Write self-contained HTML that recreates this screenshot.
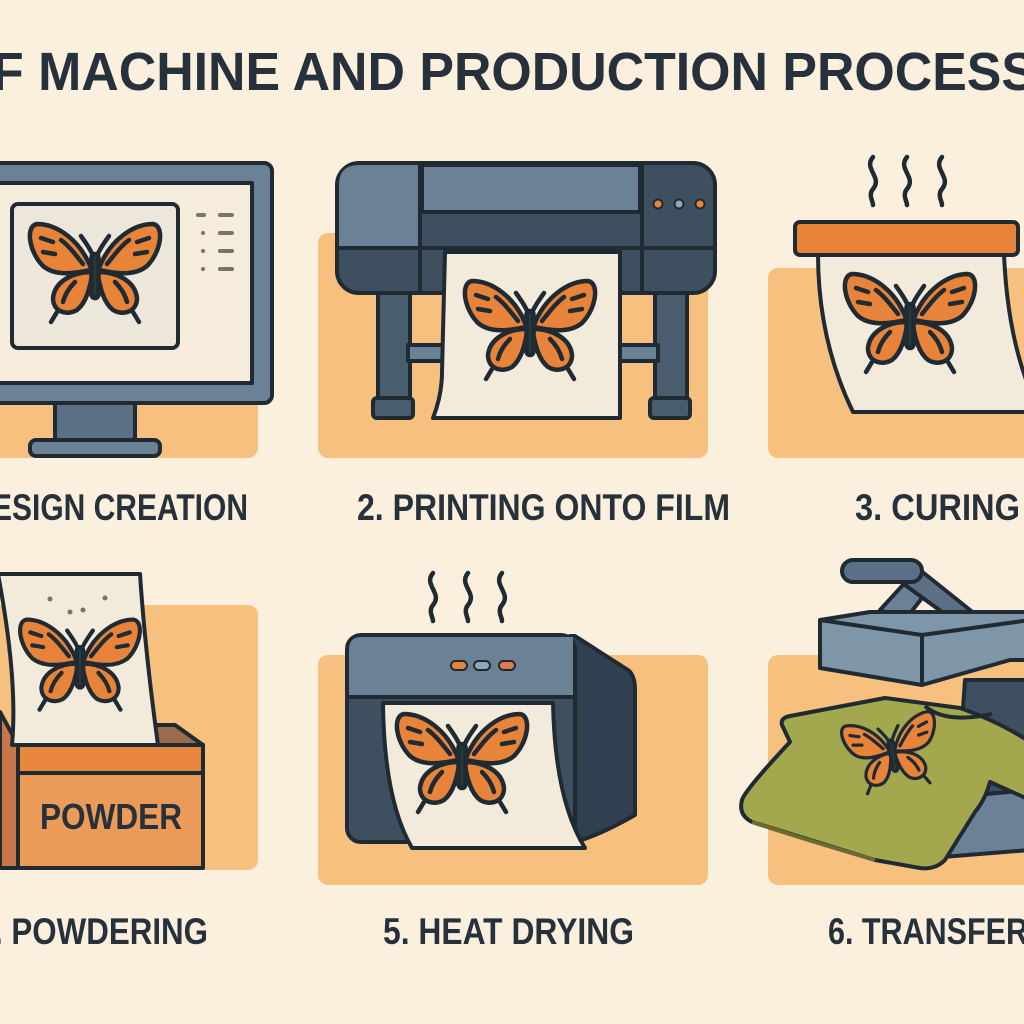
<!DOCTYPE html>
<html><head><meta charset="utf-8"><style>
html,body{margin:0;padding:0;background:#fbf0de;}
svg{display:block}
text{font-family:"Liberation Sans",sans-serif;font-weight:bold;fill:#27313c}
</style></head><body>
<svg width="1024" height="1024" viewBox="0 0 1024 1024" xmlns="http://www.w3.org/2000/svg">
<defs>
<g id="bf" stroke="#1f2a33" stroke-width="4.5" stroke-linecap="round" stroke-linejoin="round">
  <path d="M-4,0 C-15,-28 -38,-44 -58,-44 C-70,-42 -66,-16 -52,-2 C-40,8 -22,6 -4,2Z" fill="#e7843a"/>
  <path d="M4,0 C15,-28 38,-44 58,-44 C70,-42 66,-16 52,-2 C40,8 22,6 4,2Z" fill="#e7843a"/>
  <path d="M-4,4 C-20,4 -40,12 -42,30 C-42,44 -28,48 -18,42 C-8,34 -5,18 -3,8Z" fill="#e7843a"/>
  <path d="M4,4 C20,4 40,12 42,30 C42,44 28,48 18,42 C8,34 5,18 3,8Z" fill="#e7843a"/>
  <path d="M-12,-4 C-20,-14 -26,-22 -34,-28 M-54,-30 L-42,-26 M-52,-16 L-40,-14 M-20,14 C-26,20 -30,26 -32,34 M12,-4 C20,-14 26,-22 34,-28 M54,-30 L42,-26 M52,-16 L40,-14 M20,14 C26,20 30,26 32,34 M-38,44 L-44,54 M38,44 L44,54 M-2,-12 C-5,-20 -10,-26 -14,-32 M2,-12 C5,-20 10,-26 14,-32" fill="none"/>
  <rect x="-3.5" y="-14" width="7" height="44" rx="3.5" fill="#2a3a38"/>
</g>
</defs>

<text x="-8" y="90" font-size="54" textLength="1044" lengthAdjust="spacingAndGlyphs">F MACHINE AND PRODUCTION PROCESS</text>

<g stroke="#1f2a33" stroke-width="4" stroke-linejoin="round">
<rect x="-10" y="235" width="268" height="223" rx="10" fill="#f7c07f" stroke="none"/>
<rect x="318" y="233" width="390" height="225" rx="10" fill="#f7c07f" stroke="none"/>
<rect x="768" y="268" width="270" height="190" rx="10" fill="#f7c07f" stroke="none"/>
<rect x="-10" y="605" width="268" height="265" rx="10" fill="#f7c07f" stroke="none"/>
<rect x="318" y="655" width="390" height="230" rx="10" fill="#f7c07f" stroke="none"/>
<rect x="768" y="655" width="270" height="230" rx="10" fill="#f7c07f" stroke="none"/>

<!-- 1 monitor -->
<rect x="55" y="400" width="80" height="42" fill="#5b7084"/>
<rect x="30" y="440" width="130" height="16" rx="6" fill="#6b8195"/>
<rect x="-10" y="163" width="282" height="240" rx="8" fill="#6b8195"/>
<rect x="-10" y="183" width="262" height="200" fill="#f5ecdc"/>
<rect x="12" y="204" width="166" height="144" rx="6" fill="#ede6da"/>
<g stroke="#7a7468" stroke-width="4" stroke-linecap="round">
<path d="M198 215h6M220 215h12M203 233h0M220 233h12M203 251h0M220 251h12M203 269h0M220 269h12"/>
</g>
<use href="#bf" transform="translate(95,268)"/>

<!-- 2 printer -->
<rect x="378" y="290" width="32" height="125" fill="#4a5d6e"/>
<rect x="373" y="398" width="40" height="20" rx="4" fill="#4a5d6e"/>
<rect x="655" y="290" width="32" height="125" fill="#4a5d6e"/>
<rect x="650" y="398" width="40" height="20" rx="4" fill="#4a5d6e"/>
<rect x="408" y="345" width="250" height="16" fill="#6b8195"/>
<rect x="337" y="163" width="378" height="130" rx="22" fill="#3e5060"/>
<path d="M359 165 H420 V248 H339 V185 Q339 165 359 165Z" fill="#6b8195" stroke="none"/>
<rect x="422" y="165" width="218" height="47" fill="#6b8195"/>
<path d="M420 165 V293 M642 165 V293 M339 248 H713" fill="none"/>
<circle cx="658" cy="204" r="4.5" fill="#e7843a" stroke-width="2"/>
<circle cx="679" cy="204" r="4.5" fill="#8fa8b8" stroke-width="2"/>
<circle cx="700" cy="204" r="4.5" fill="#e7843a" stroke-width="2"/>
<path d="M445 252 H620 V418 H433 Q442 395 442 372Z" fill="#f2eadb"/>
<use href="#bf" transform="translate(530,325)"/>

<!-- 3 curing -->
<g fill="none" stroke-width="4.5" stroke-linecap="round">
<path d="M873 157 c-10 12 10 20 0 32 c-5 6 0 12 0 16"/>
<path d="M907 157 c-10 12 10 20 0 32 c-5 6 0 12 0 16"/>
<path d="M942 157 c-10 12 10 20 0 32 c-5 6 0 12 0 16"/>
</g>
<path d="M818 254 H1004 Q1008 350 1040 412 H853 Q818 340 818 254Z" fill="#f2eadb"/>
<rect x="795" y="222" width="223" height="33" rx="5" fill="#e7843a"/>
<use href="#bf" transform="translate(910,318)"/>

<!-- 4 powder -->
<path d="M0 712 L18 745 V868 L0 868Z" fill="#c9774a"/>
<path d="M18 745 L50 725 H175 L203 745Z" fill="#9b6b4b"/>
<path d="M-2 574 H140 Q145 650 158 745 H12 Q18 680 -2 574Z" fill="#f2eadb"/>
<rect x="18" y="745" width="185" height="123" fill="#eb9a58"/>
<rect x="18" y="745" width="185" height="28" fill="#e8883f"/>
<circle cx="50" cy="599" r="2.5" fill="#7a7468" stroke="none"/><circle cx="70" cy="612" r="2.5" fill="#7a7468" stroke="none"/><circle cx="83" cy="610" r="2.5" fill="#7a7468" stroke="none"/><circle cx="105" cy="598" r="2.5" fill="#7a7468" stroke="none"/>
<use href="#bf" transform="translate(80,660) scale(0.92)"/>

<!-- 5 heat drying -->
<g fill="none" stroke-width="4.5" stroke-linecap="round">
<path d="M433 573 c-10 12 10 20 0 32 c-5 6 0 12 0 16"/>
<path d="M468 573 c-10 12 10 20 0 32 c-5 6 0 12 0 16"/>
<path d="M502 573 c-10 12 10 20 0 32 c-5 6 0 12 0 16"/>
</g>
<path d="M570 636 H575 L628 670 Q635 675 635 690 V815 Q600 835 575 842Z" fill="#2f4150"/>
<rect x="347" y="635" width="228" height="207" rx="14" fill="#3e5060"/>
<path d="M361 637 H573 V697 H349 V650 Q349 637 361 637Z" fill="#6b8195" stroke="none"/>
<path d="M349 697 H575" fill="none"/>
<rect x="451" y="661" width="16" height="9" rx="4.5" fill="#e7843a" stroke-width="2"/>
<rect x="474" y="661" width="16" height="9" rx="4.5" fill="#8fa8b8" stroke-width="2"/>
<rect x="499" y="661" width="16" height="9" rx="4.5" fill="#e07a50" stroke-width="2"/>
<path d="M383 703 H553 Q555 800 585 848 H412 Q384 800 383 703Z" fill="#f2eadb"/>
<use href="#bf" transform="translate(462,758)"/>

<!-- 6 transfer -->
<path d="M965 680 H1030 V840 H950 Q960 760 965 680Z" fill="#3e5060"/>
<path d="M920 800 L1030 790 V850 L930 858Z" fill="#6b8195"/>
<path d="M880 610 L912 575 L932 585 L905 620Z" fill="#6b8195"/>
<path d="M905 585 L960 625 L975 614 L920 570Z" fill="#5b7084"/>
<rect x="842" y="560" width="80" height="22" rx="11" fill="#5b7084"/>
<path d="M820 620 L870 612 H1030 V660 L1010 660 L922 685 L820 668Z" fill="#7f95a8"/>
<path d="M820 620 L922 635 L1030 620" fill="none"/>
<path d="M922 635 V685" fill="none"/>
<path d="M742 800 Q745 790 790 742 L782 725 Q780 718 790 716 L885 698 L960 708 Q1000 722 1030 742 V800 L990 782 Q985 800 975 812 L945 860 Q935 870 920 868 L875 860 L752 822 Q738 815 742 800Z" fill="#a3a84e"/>
<path d="M752 822 Q800 838 875 860" fill="none" stroke="#6b6b30"/>
<path d="M925 706 Q945 724 992 714" fill="none"/>
<use href="#bf" transform="translate(892,750) rotate(-10) scale(0.72)"/>
</g>

<text x="-8" y="520" font-size="37" textLength="256" lengthAdjust="spacingAndGlyphs">ESIGN CREATION</text>
<text x="357" y="520" font-size="37" textLength="373" lengthAdjust="spacingAndGlyphs">2. PRINTING ONTO FILM</text>
<text x="855" y="520" font-size="37" textLength="165" lengthAdjust="spacingAndGlyphs">3. CURING</text>
<text x="40" y="829" font-size="36" textLength="142" lengthAdjust="spacingAndGlyphs">POWDER</text>
<text x="-6" y="944" font-size="37" textLength="214" lengthAdjust="spacingAndGlyphs">. POWDERING</text>
<text x="383" y="944" font-size="37" textLength="251" lengthAdjust="spacingAndGlyphs">5. HEAT DRYING</text>
<text x="828" y="944" font-size="37" textLength="200" lengthAdjust="spacingAndGlyphs">6. TRANSFER</text>
</svg>
</body></html>
